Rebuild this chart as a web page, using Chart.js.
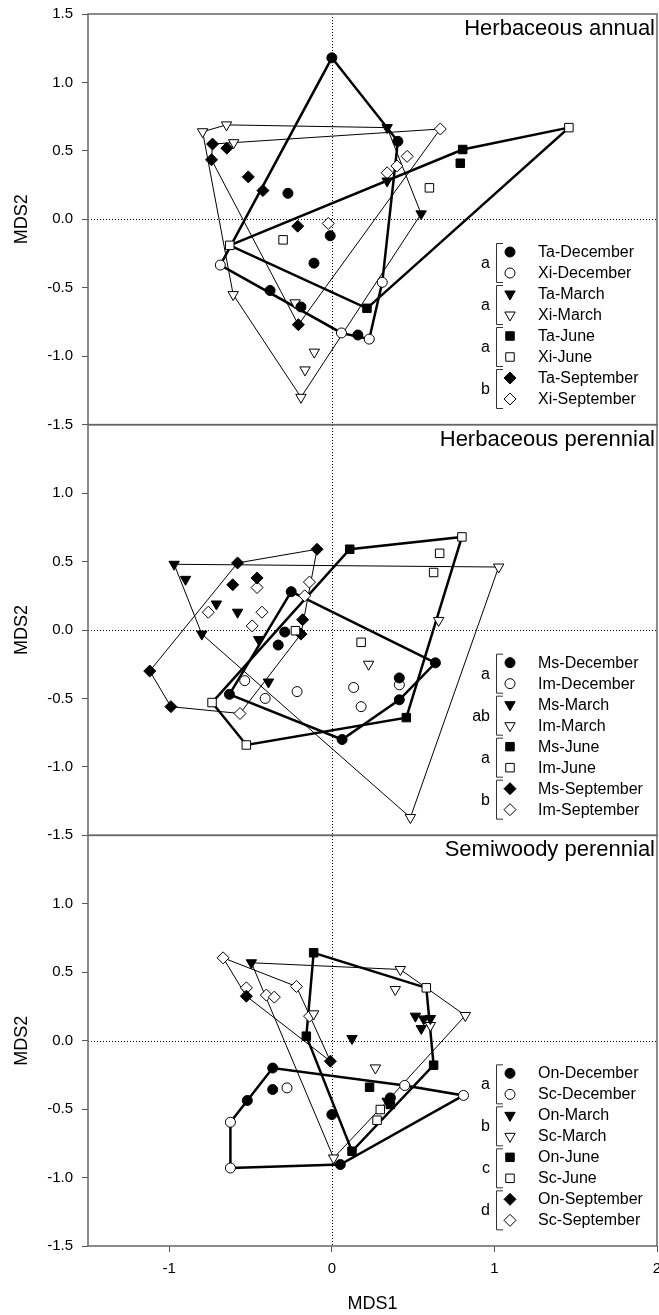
<!DOCTYPE html>
<html>
<head>
<meta charset="utf-8">
<script src="https://cdn.jsdelivr.net/npm/chart.js@4.4.1/dist/chart.umd.min.js"></script>
<style>
  html, body { margin: 0; padding: 0; background: #fff; }
  canvas { display: block; }
</style>
</head>
<body>
<canvas id="mds" width="659" height="1315"></canvas>
<script>
// Axis ticks
const xTicks = [-1, 0, 1, 2];
const yTicks = [-1.5, -1, -0.5, 0, 0.5, 1, 1.5];

// Panels, sampling months, species codes and group letters
const panelTitles = ['Herbaceous annual', 'Herbaceous perennial', 'Semiwoody perennial'];
const months = ['December', 'March', 'June', 'September'];
const speciesCodes = [['Ta', 'Xi'], ['Ms', 'Im'], ['On', 'Sc']];
const groupLetters = [['a', 'a', 'a', 'b'], ['a', 'ab', 'a', 'b'], ['a', 'b', 'c', 'd']];

// Herbaceous annual: MDS1, MDS2 scores
const taDecember = [[0, 1.18], [0.406, 0.57], [-0.27, 0.19], [-0.01, -0.12], [-0.11, -0.32], [-0.38, -0.52], [-0.19, -0.64], [0.16, -0.845]];
const xiDecember = [[-0.686, -0.334], [0.31, -0.46], [0.059, -0.83], [0.23, -0.875]];
const taMarch = [[0.34, 0.67], [0.34, 0.28], [0.549, 0.04]];
const xiMarch = [[-0.795, 0.64], [-0.648, 0.69], [-0.604, 0.56], [-0.607, -0.55], [-0.226, -0.61], [-0.108, -0.97], [-0.165, -1.10], [-0.19, -1.30]];
const taJune = [[0.805, 0.51], [0.79, 0.41], [0.216, -0.65]];
const xiJune = [[1.458, 0.67], [0.60, 0.23], [-0.30, -0.15], [-0.628, -0.19]];
const taSeptember = [[-0.734, 0.55], [-0.646, 0.52], [-0.74, 0.435], [-0.514, 0.31], [-0.424, 0.21], [-0.21, -0.05], [-0.206, -0.77]];
const xiSeptember = [[0.667, 0.66], [0.463, 0.46], [0.40, 0.39], [0.34, 0.34], [-0.022, -0.03]];

// Herbaceous perennial
const msDecember = [[-0.25, 0.28], [-0.29, -0.015], [-0.33, -0.11], [-0.63, -0.47], [0.637, -0.24], [0.415, -0.35], [0.415, -0.51], [0.063, -0.80]];
const imDecember = [[-0.536, -0.37], [-0.41, -0.50], [-0.214, -0.45], [0.134, -0.42], [0.18, -0.56], [0.415, -0.40]];
const msMarch = [[-0.97, 0.48], [-0.90, 0.37], [-0.71, 0.19], [-0.58, 0.13], [-0.80, -0.03], [-0.45, -0.07], [-0.39, -0.38]];
const imMarch = [[1.026, 0.46], [0.657, 0.07], [0.226, -0.25], [0.483, -1.37]];
const msJune = [[0.11, 0.59], [0.458, -0.64]];
const imJune = [[0.80, 0.68], [0.663, 0.56], [0.626, 0.42], [0.18, -0.09], [-0.224, -0.005], [-0.737, -0.53], [-0.526, -0.84]];
const msSeptember = [[-0.091, 0.59], [-0.58, 0.49], [-0.46, 0.38], [-0.61, 0.33], [-0.18, 0.075], [-0.19, -0.03], [-1.12, -0.30], [-0.99, -0.56]];
const imSeptember = [[-0.138, 0.35], [-0.167, 0.25], [-0.46, 0.31], [-0.76, 0.13], [-0.43, 0.13], [-0.49, 0.03], [-0.565, -0.61]];

// Semiwoody perennial
const onDecember = [[-0.364, -0.20], [-0.364, -0.357], [-0.52, -0.437], [0, -0.54], [0.052, -0.905], [0.36, -0.418]];
const scDecember = [[-0.276, -0.345], [-0.624, -0.596], [-0.624, -0.93], [0.448, -0.327], [0.81, -0.40]];
const onMarch = [[-0.495, 0.569], [0.124, 0.016], [0.514, 0.179], [0.565, 0.159], [0.55, 0.089], [0.606, 0.162], [0.34, -0.442]];
const scMarch = [[-0.112, 0.196], [0.421, 0.52], [0.39, 0.374], [0.821, 0.184], [0.606, 0.111], [0.268, -0.199], [0.011, -0.857]];
const onJune = [[-0.112, 0.642], [-0.157, 0.033], [0.124, -0.808], [0.626, -0.179], [0.232, -0.34], [0.36, -0.466]];
const scJune = [[0.581, 0.386], [0.298, -0.503], [0.278, -0.581]];
const onSeptember = [[-0.526, 0.325], [-0.009, -0.15]];
const scSeptember = [[-0.669, 0.605], [-0.526, 0.386], [-0.403, 0.333], [-0.354, 0.318], [-0.218, 0.396], [-0.137, 0.179]];

const FONT = "'Liberation Sans', Arial, Helvetica, sans-serif";
Chart.defaults.font.family = FONT;
Chart.defaults.color = '#000';

const panels = [
  { axis: 'yA', series: [[taDecember, xiDecember], [taMarch, xiMarch], [taJune, xiJune], [taSeptember, xiSeptember]] },
  { axis: 'yB', series: [[msDecember, imDecember], [msMarch, imMarch], [msJune, imJune], [msSeptember, imSeptember]] },
  { axis: 'yC', series: [[onDecember, scDecember], [onMarch, scMarch], [onJune, scJune], [onSeptember, scSeptember]] }
];

// Marker per month; hull outline weight per month
const monthMarker = [
  { pointStyle: 'circle', radius: 5, rotation: 0 },
  { pointStyle: 'triangle', radius: 6, rotation: 180 },
  { pointStyle: 'rect', radius: 6, rotation: 0 },
  { pointStyle: 'rectRot', radius: 6, rotation: 0 }
];
const hullWidth = [2.5, 1, 2.5, 1];

// Convex hull (monotone chain) of a set of [x, y] points, returned closed
function convexHull(points) {
  const p = points.slice().sort((a, b) => a[0] - b[0] || a[1] - b[1]);
  const cross = (o, a, b) => (a[0] - o[0]) * (b[1] - o[1]) - (a[1] - o[1]) * (b[0] - o[0]);
  const lower = [];
  for (const pt of p) {
    while (lower.length >= 2 && cross(lower[lower.length - 2], lower[lower.length - 1], pt) <= 0) lower.pop();
    lower.push(pt);
  }
  const upper = [];
  for (let i = p.length - 1; i >= 0; i--) {
    const pt = p[i];
    while (upper.length >= 2 && cross(upper[upper.length - 2], upper[upper.length - 1], pt) <= 0) upper.pop();
    upper.push(pt);
  }
  upper.pop(); lower.pop();
  const hull = lower.concat(upper);
  hull.push(hull[0]);
  return hull;
}

const toXY = arr => arr.map(([x, y]) => ({ x, y }));

const datasets = [];
panels.forEach((panel, p) => {
  panel.series.forEach((pair, m) => {
    // hull around both species of a month
    datasets.push({
      label: 'hull',
      data: toXY(convexHull(pair[0].concat(pair[1]))),
      yAxisID: panel.axis,
      showLine: true,
      borderColor: '#000',
      borderWidth: hullWidth[m],
      pointRadius: 0,
      pointHoverRadius: 0,
      tension: 0,
      fill: false,
      order: 10
    });
    pair.forEach((pts, s) => {
      const mk = monthMarker[m];
      datasets.push({
        label: speciesCodes[p][s] + '-' + months[m],
        data: toXY(pts),
        yAxisID: panel.axis,
        showLine: false,
        pointStyle: mk.pointStyle,
        pointRadius: mk.radius,
        pointHoverRadius: mk.radius,
        pointRotation: mk.rotation,
        pointBackgroundColor: s === 0 ? '#000' : '#fff',
        pointBorderColor: '#000',
        pointBorderWidth: 1,
        order: 0
      });
    });
  });
});

function yScale(isTop) {
  return {
    type: 'linear',
    position: 'left',
    stack: 'mds',
    stackWeight: 1,
    min: -1.5,
    max: 1.5,
    afterBuildTicks: s => { s.ticks = yTicks.map(v => ({ value: v })); },
    afterFit: s => { s.width = 88; s.paddingTop = 0; s.paddingBottom = 0; },
    ticks: {
      autoSkip: false,
      padding: 9,
      color: '#000',
      font: { size: 15 },
      callback: v => (!isTop && v === 1.5) ? '' : Number(v).toFixed(1)
    },
    grid: { drawOnChartArea: false, drawTicks: true, tickLength: 6, color: '#555' },
    border: { display: false },
    title: { display: true, text: 'MDS2', color: '#000', font: { size: 18 }, padding: { top: 11, bottom: 0 } }
  };
}

// Frames, zero reference lines, panel titles and grouped legends
const panelDecor = {
  id: 'panelDecor',
  beforeDatasetsDraw(chart) {
    const ctx = chart.ctx;
    const xs = chart.scales.x;
    const area = chart.chartArea;
    ctx.save();
    ctx.strokeStyle = '#000';
    ctx.lineWidth = 1;
    ctx.setLineDash([1, 2]);
    const x0 = Math.round(xs.getPixelForValue(0)) + 0.5;
    ctx.beginPath();
    ctx.moveTo(x0, area.top);
    ctx.lineTo(x0, area.bottom);
    ctx.stroke();
    panels.forEach(panel => {
      const ys = chart.scales[panel.axis];
      const y0 = Math.round(ys.getPixelForValue(0)) + 0.5;
      ctx.beginPath();
      ctx.moveTo(area.left, y0);
      ctx.lineTo(area.right, y0);
      ctx.stroke();
    });
    ctx.restore();
  },
  afterDatasetsDraw(chart) {
    const ctx = chart.ctx;
    const area = chart.chartArea;
    ctx.save();
    panels.forEach((panel, p) => {
      const ys = chart.scales[panel.axis];
      const top = ys.top;
      // frame
      ctx.strokeStyle = '#666';
      ctx.lineWidth = 1.5;
      ctx.strokeRect(area.left, top, area.right - area.left, ys.bottom - top);

      // title
      ctx.fillStyle = '#000';
      ctx.font = '22px ' + FONT;
      ctx.textAlign = 'right';
      ctx.textBaseline = 'alphabetic';
      ctx.fillText(panelTitles[p], area.right - 2, top + 21);

      // legend
      const rowY = i => top + 238 + 21 * i;
      ctx.font = '16px ' + FONT;
      for (let m = 0; m < 4; m++) {
        for (let s = 0; s < 2; s++) {
          const i = m * 2 + s;
          const y = rowY(i);
          const mk = monthMarker[m];
          ctx.fillStyle = s === 0 ? '#000' : '#fff';
          ctx.strokeStyle = '#000';
          ctx.lineWidth = 1;
          Chart.helpers.drawPoint(ctx, { pointStyle: mk.pointStyle, radius: mk.radius, rotation: mk.rotation, borderWidth: 1 }, 510, y);
          ctx.fillStyle = '#000';
          ctx.textAlign = 'left';
          ctx.textBaseline = 'middle';
          ctx.fillText(speciesCodes[p][s] + '-' + months[m], 538, y + 0.5);
        }
        const yA = rowY(m * 2) - 9;
        const yB = rowY(m * 2 + 1) + 9;
        ctx.strokeStyle = '#333';
        ctx.lineWidth = 1;
        ctx.beginPath();
        ctx.moveTo(503, yA + 0.5);
        ctx.lineTo(496.5, yA + 0.5);
        ctx.lineTo(496.5, yB + 0.5);
        ctx.lineTo(503, yB + 0.5);
        ctx.stroke();
        ctx.fillStyle = '#000';
        ctx.textAlign = 'right';
        ctx.textBaseline = 'alphabetic';
        ctx.fillText(groupLetters[p][m], 490, (rowY(m * 2) + rowY(m * 2 + 1)) / 2 + 5.5);
      }
    });
    ctx.restore();
  }
};

new Chart(document.getElementById('mds'), {
  type: 'scatter',
  data: { datasets },
  options: {
    responsive: false,
    devicePixelRatio: 1,
    animation: false,
    events: [],
    layout: { autoPadding: false, padding: { top: 14, right: 2, left: 0, bottom: 0 } },
    plugins: { legend: { display: false }, tooltip: { enabled: false } },
    scales: {
      yC: yScale(false),
      yB: yScale(false),
      yA: yScale(true),
      x: {
        type: 'linear',
        position: 'bottom',
        min: -1.5,
        max: 2,
        afterBuildTicks: s => { s.ticks = xTicks.map(v => ({ value: v })); },
        afterFit: s => { s.height = 69; s.paddingLeft = 0; s.paddingRight = 0; },
        ticks: { autoSkip: false, maxRotation: 0, padding: 8, color: '#000', font: { size: 15 }, callback: v => String(v) },
        grid: { drawOnChartArea: false, drawTicks: true, tickLength: 6, color: '#555' },
        border: { display: false },
        title: { display: true, text: 'MDS1', color: '#000', font: { size: 18 }, padding: { top: 0, bottom: 0 } }
      }
    }
  },
  plugins: [panelDecor]
});
</script>
</body>
</html>
